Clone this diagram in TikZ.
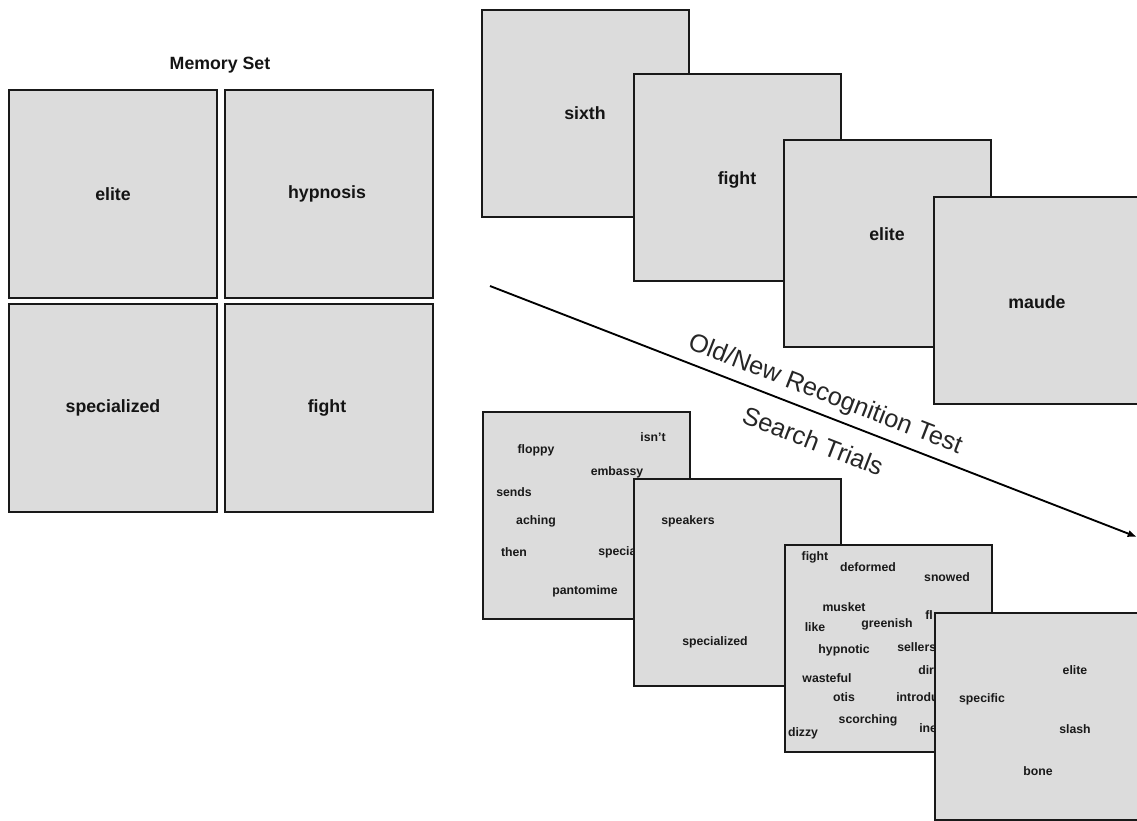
\documentclass[tikz,border=0pt]{standalone}
\usepackage{fontspec}
\setmainfont{Liberation Sans}
\usetikzlibrary{arrows.meta}
\definecolor{cardgray}{HTML}{DCDCDC}
\tikzset{
  card/.style={draw=black!90, fill=cardgray, line width=1.7pt, inner sep=0pt,
    minimum width=155pt, minimum height=155pt, anchor=north west},
  memcard/.style={card, minimum width=156pt, minimum height=156pt},
  bigword/.style={font=\bfseries\fontsize{13.3}{15}\selectfont, text=black!92, inner sep=0pt},
  smallword/.style={font=\bfseries\fontsize{9.2}{11}\selectfont, text=black!90, inner sep=0pt},
  lightlabel/.style={font=\fontsize{19}{22}\selectfont, text=black!85, inner sep=0pt, rotate=-21.2},
  timeline/.style={line width=1.4pt, -{Latex[length=7pt,width=5.5pt]}}
}
\begin{document}
\begin{tikzpicture}[x=0.75pt, y=-0.75pt]
\useasboundingbox (0,0) rectangle (1137,820);
\clip (0,0) rectangle (1137,820);

% Memory set
\node[bigword] (memtitle) at (220,65) {Memory Set};
\node[memcard] (m1) at (8,89) {};
\node[memcard] (m2) at (224,89) {};
\node[memcard] (m3) at (8,303) {};
\node[memcard] (m4) at (224,303) {};
\node[bigword] (m1w) at (113,194) {elite};
\node[bigword] (m2w) at (327,194) {hypnosis};
\node[bigword] (m3w) at (113,408) {specialized};
\node[bigword] (m4w) at (327,408) {fight};

% Old/New recognition test
\node[card] (r1) at (481,9) {};
\node[bigword] (r1w) at (585,113) {sixth};
\node[card] (r2) at (633,73) {};
\node[bigword] (r2w) at (737,180) {fight};
\node[card] (r3) at (783,139) {};
\node[bigword] (r3w) at (887,234) {elite};
\node[card] (r4) at (933,196) {};
\node[bigword] (r4w) at (1037,302) {maude};

% Arrow and labels
\coordinate (arrS) at (490,286);
\coordinate (arrE) at (1137,537);
\draw[timeline] (arrS) -- (arrE);
\node[lightlabel] (oldnew) at (825,395) {Old/New Recognition Test};
\node[lightlabel] (search) at (813,441) {Search Trials};

% Search trials
\node[card] (s1) at (482,411) {};
\node[smallword] (s1a) at (653,437) {isn’t};
\node[smallword] (s1b) at (536,450) {floppy};
\node[smallword] (s1c) at (617,472) {embassy};
\node[smallword] (s1d) at (514,492) {sends};
\node[smallword] (s1e) at (536,521) {aching};
\node[smallword] (s1f) at (514,552) {then};
\node[smallword, anchor=west] (s1g) at (598,552) {specialized};
\node[smallword] (s1h) at (585,591) {pantomime};

\node[card] (s2) at (633,478) {};
\node[smallword] (s2a) at (688,521) {speakers};
\node[smallword] (s2b) at (715,642) {specialized};

\node[card] (s3) at (784,544) {};
\node[smallword] (s3a) at (815,557) {fight};
\node[smallword] (s3b) at (868,567) {deformed};
\node[smallword] (s3c) at (947,577) {snowed};
\node[smallword] (s3d) at (844,607) {musket};
\node[smallword, anchor=west] (s3e) at (925,615) {fl};
\node[smallword] (s3f) at (815,627) {like};
\node[smallword] (s3g) at (887,624) {greenish};
\node[smallword] (s3h) at (844,650) {hypnotic};
\node[smallword, anchor=west] (s3i) at (897,647) {sellers};
\node[smallword, anchor=west] (s3j) at (918,670) {dirt};
\node[smallword] (s3k) at (827,678) {wasteful};
\node[smallword] (s3l) at (844,697) {otis};
\node[smallword, anchor=west] (s3m) at (896,697) {introduced};
\node[smallword] (s3n) at (868,720) {scorching};
\node[smallword] (s3o) at (803,733) {dizzy};
\node[smallword, anchor=west] (s3p) at (919,729) {inept};

\node[card] (s4) at (934,612) {};
\node[smallword] (s4a) at (1075,670) {elite};
\node[smallword] (s4b) at (982,699) {specific};
\node[smallword] (s4c) at (1075,729) {slash};
\node[smallword] (s4d) at (1038,771) {bone};
\end{tikzpicture}
\end{document}
